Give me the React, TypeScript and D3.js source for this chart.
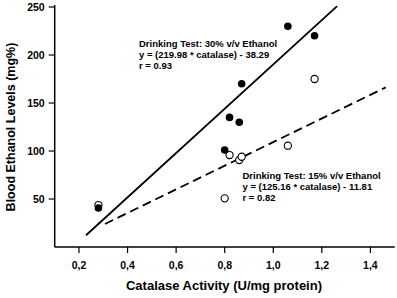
import React from "react";
import * as d3 from "d3";

const W = 397;
const H = 298;

const xTicks = [0.2, 0.4, 0.6, 0.8, 1.0, 1.2, 1.4];
const yTicks = [50, 100, 150, 200, 250];

const catalase30 = [0.28, 0.8, 0.82, 0.86, 0.87, 1.06, 1.17];
const ethanol30 = [40.6, 101, 135, 130, 170, 230, 220];

const catalase15 = [0.28, 0.8, 0.82, 0.86, 0.87, 1.06, 1.17];
const ethanol15 = [43.7, 50.7, 95.8, 90.6, 94, 105.5, 175];

const fit30X = [0.229, 1.263];
const fit30Y = [12.2, 251];
const fit15X = [0.307, 1.463];
const fit15Y = [24, 166.3];

const label30 = [
  "Drinking Test: 30% v/v Ethanol",
  "y = (219.98 * catalase) - 38.29",
  "r = 0.93",
];
const label15 = [
  "Drinking Test: 15% v/v Ethanol",
  "y = (125.16 * catalase) - 11.81",
  "r = 0.82",
];

export default function App() {
  const x = d3.scaleLinear().domain([0.1, 1.5]).range([54.7, 394.7]);
  const y = d3.scaleLinear().domain([0, 250]).range([247, 7]);
  const font = "Arial, 'Liberation Sans', sans-serif";
  const line = d3
    .line<[number, number]>()
    .x((d) => x(d[0]))
    .y((d) => y(d[1]));
  const f30: [number, number][] = fit30X.map((v, i) => [v, fit30Y[i]]);
  const f15: [number, number][] = fit15X.map((v, i) => [v, fit15Y[i]]);
  const fmt = (v: number) => d3.format(".1f")(v).replace(".", ",");
  const x0 = x.range()[0];
  const y0 = y(0);

  return (
    <svg
      width={W}
      height={H}
      style={{ position: "fixed", left: 0, top: 0, background: "#fff" }}
      fontFamily={font}
    >
      {/* axes */}
      <line x1={x0} x2={x0} y1={5} y2={y0} stroke="#000" strokeWidth={1.5} />
      <line x1={x0} x2={x.range()[1]} y1={y0} y2={y0} stroke="#000" strokeWidth={1.5} />
      {yTicks.map((t) => (
        <g key={"y" + t}>
          <line x1={x0 - 6} x2={x0} y1={y(t)} y2={y(t)} stroke="#000" strokeWidth={1.2} />
          <text
            x={x0 - 10}
            y={y(t)}
            dy="0.35em"
            textAnchor="end"
            fontSize={10.5}
            fontWeight="bold"
          >
            {t}
          </text>
        </g>
      ))}
      {xTicks.map((t) => (
        <g key={"x" + t}>
          <line x1={x(t)} x2={x(t)} y1={y0} y2={y0 + 6} stroke="#000" strokeWidth={1.2} />
          <text
            x={x(t)}
            y={y0 + 18}
            dy="0.35em"
            textAnchor="middle"
            fontSize={10.5}
            fontWeight="bold"
          >
            {fmt(t)}
          </text>
        </g>
      ))}
      <text
        x={224}
        y={285}
        dy="0.35em"
        textAnchor="middle"
        fontSize={13}
        fontWeight="bold"
      >
        Catalase Activity (U/mg protein)
      </text>
      <text
        transform={`translate(11,127) rotate(-90)`}
        dy="0.35em"
        textAnchor="middle"
        fontSize={12.5}
        fontWeight="bold"
      >
        Blood Ethanol Levels (mg%)
      </text>

      {/* fit lines */}
      <path d={line(f30) || ""} fill="none" stroke="#000" strokeWidth={1.8} />
      <path
        d={line(f15) || ""}
        fill="none"
        stroke="#000"
        strokeWidth={1.8}
        strokeDasharray="9,5"
      />

      {/* points */}
      {catalase15.map((c, i) => (
        <circle
          key={"o" + i}
          cx={x(c)}
          cy={y(ethanol15[i])}
          r={3.6}
          fill="#fff"
          stroke="#000"
          strokeWidth={1.1}
        />
      ))}
      {catalase30.map((c, i) => (
        <circle key={"f" + i} cx={x(c)} cy={y(ethanol30[i])} r={3.8} fill="#000" />
      ))}

      {/* annotations */}
      {label30.map((s, i) => (
        <text
          key={"l30" + i}
          x={139}
          y={44 + i * 10.7}
          dy="0.35em"
          fontSize={9.5}
          fontWeight="bold"
        >
          {s}
        </text>
      ))}
      {label15.map((s, i) => (
        <text
          key={"l15" + i}
          x={242.5}
          y={175.7 + i * 11}
          dy="0.35em"
          fontSize={9.5}
          fontWeight="bold"
        >
          {s}
        </text>
      ))}
    </svg>
  );
}
